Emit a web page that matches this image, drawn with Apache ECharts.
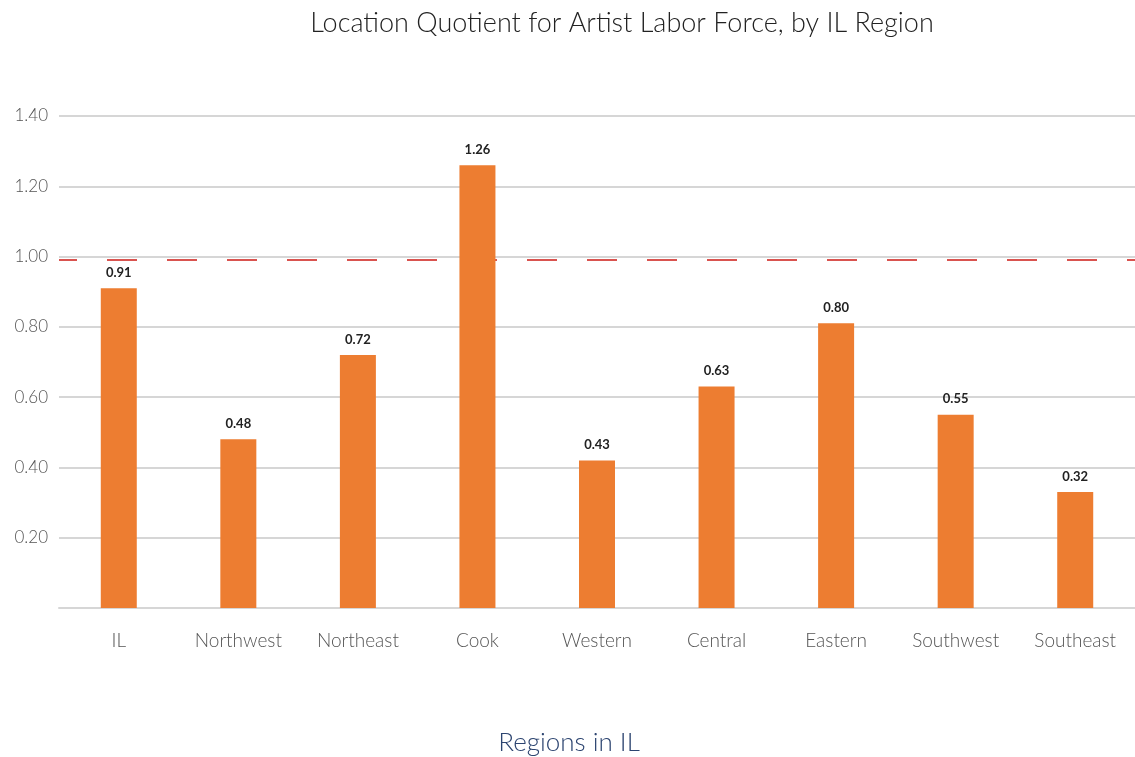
<!DOCTYPE html>
<html><head><meta charset="utf-8">
<script src="https://cdn.jsdelivr.net/npm/echarts@6/dist/echarts.min.js"></script>
<style>html,body{margin:0;padding:0;background:#fff}#c{width:1135px;height:757px}</style>
</head><body><div id="c"></div>
<script>
const categories = ['IL','Northwest','Northeast','Cook','Western','Central','Eastern','Southwest','Southeast'];
const values = [0.91,0.48,0.72,1.26,0.42,0.63,0.81,0.55,0.33];
const labels = ['0.91','0.48','0.72','1.26','0.43','0.63','0.80','0.55','0.32'];
const referenceValue = 0.99;
const yTicks = {min:0, max:1.4, interval:0.2};
const FONT = 'Lato';
const chart = echarts.init(document.getElementById('c'));
chart.setOption({
  animation:false,
  title:[
    {text:'Location Quotient for Artist Labor Force, by IL Region', left:617, top:5, textAlign:'center',
     textStyle:{fontFamily:FONT, fontWeight:300, fontSize:27, color:'#222'}},
    {text:'Regions in IL', left:564, top:725, textAlign:'center',
     textStyle:{fontFamily:FONT, fontWeight:300, fontSize:26, color:'#2c4470'}}
  ],
  grid:{left:59, top:116, width:1079, height:492},
  xAxis:{type:'category', data:categories,
    axisLine:{lineStyle:{color:'#d6d6d6', width:2}}, axisTick:{show:false},
    axisLabel:{fontFamily:FONT, fontSize:19, fontWeight:300, color:'#555', margin:23}},
  yAxis:{type:'value', min:yTicks.min, max:yTicks.max, interval:yTicks.interval,
    axisLine:{show:false}, axisTick:{show:false},
    splitLine:{lineStyle:{color:'#d6d6d6', width:2}},
    axisLabel:{fontFamily:FONT, fontSize:17, fontWeight:300, color:'#555', margin:11,
      formatter:v=> v===0 ? '' : v.toFixed(2)}},
  series:[{
    type:'bar', data:values, barWidth:36, z:3,
    itemStyle:{color:'#ED7D31'},
    label:{show:true, position:'top', distance:9, fontFamily:FONT, fontWeight:'bold', fontSize:13, color:'#222',
      formatter:p=>labels[p.dataIndex]},
    markLine:{z:1, symbol:'none', silent:true, label:{show:false},
      lineStyle:{color:'#d9534f', type:[30,30], dashOffset:12, width:2},
      data:[{yAxis:referenceValue}]}
  }]
});
</script></body></html>
